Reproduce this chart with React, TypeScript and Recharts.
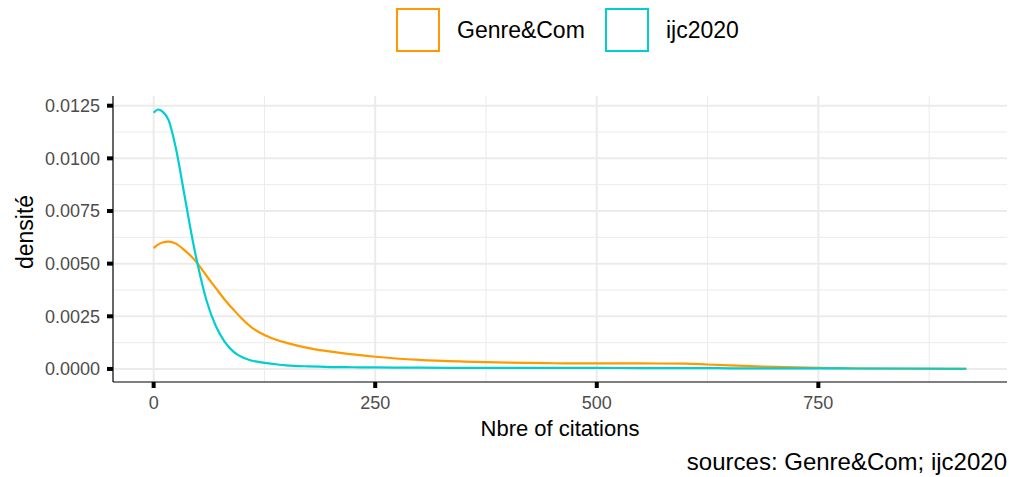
import { LineChart, Line, XAxis, YAxis, CartesianGrid } from 'recharts';

const citations = [0, 5, 10, 17, 25, 35, 45, 50, 60, 70, 80, 90, 100, 110, 125, 140, 150, 175, 200, 225, 250, 300, 350, 400, 450, 500, 550, 600, 625, 650, 675, 700, 725, 750, 800, 850, 917];
const genreCom = [0.00574, 0.0059, 0.006, 0.00605, 0.00595, 0.00563, 0.00523, 0.00498, 0.0044, 0.00385, 0.0033, 0.00282, 0.00237, 0.00199, 0.00161, 0.00136, 0.00124, 0.00099, 0.00082, 0.00069, 0.00058, 0.00043, 0.00035, 0.0003, 0.00027, 0.00026, 0.00026, 0.00025, 0.00021, 0.00017, 0.00013, 0.0001, 0.00007, 0.00005, 0.00002, 0.00001, 0];
const ijc2020 = [0.01217, 0.01232, 0.01222, 0.0118, 0.0105, 0.0082, 0.0059, 0.0049, 0.0032, 0.00205, 0.0013, 0.00082, 0.00055, 0.0004, 0.00029, 0.00021, 0.00017, 0.00012, 0.00009, 0.00008, 0.00007, 0.00006, 0.00005, 0.00005, 0.00005, 0.00005, 0.00004, 0.00004, 0.00004, 0.00003, 0.00003, 0.00003, 0.00003, 0.00003, 0.00002, 0.00002, 0.00001];

const xTicks = [0, 250, 500, 750];
const xMinor = [125, 375, 625, 875];
const yTicks = [0, 0.0025, 0.005, 0.0075, 0.01, 0.0125];
const yMinor = [0.00125, 0.00375, 0.00625, 0.00875, 0.01125];

const data = citations.map((c, i) => ({ x: c, genre: genreCom[i], ijc: ijc2020[i] }));

const FONT = '"Liberation Sans", Arial, sans-serif';
const ORANGE = '#FF9900';
const CYAN = '#00CED1';

const legendItems = [
  { label: 'Genre&Com', color: ORANGE, left: 396 },
  { label: 'ijc2020', color: CYAN, left: 605 },
];

export default function App() {
  return (
    <div style={{ position: 'absolute', left: 0, top: 0, width: 1011, height: 477, background: '#fff', fontFamily: FONT }}>
      {/* legend drawn by hand above the panel, ggplot style */}
      {legendItems.map((it) => (
        <div key={it.label} style={{ position: 'absolute', left: it.left, top: 8, height: 44, display: 'flex', alignItems: 'center', fontSize: 23, color: '#000' }}>
          <div style={{ width: 40, height: 40, border: `2px solid ${it.color}` }} />
          <span style={{ marginLeft: 17 }}>{it.label}</span>
        </div>
      ))}
      <LineChart width={1011} height={477} data={data} margin={{ top: 96, right: 4, bottom: 66, left: 0 }} style={{ position: 'absolute', left: 0, top: 0 }}>
        <CartesianGrid stroke="#EBEBEB" strokeWidth={1} horizontalValues={yMinor} verticalValues={xMinor} />
        <CartesianGrid stroke="#EBEBEB" strokeWidth={2} horizontalValues={yTicks} verticalValues={xTicks} />
        <XAxis
          dataKey="x"
          type="number"
          domain={[-45.85, 962.85]}
          ticks={xTicks}
          allowDataOverflow
          height={29}
          axisLine={{ stroke: '#000', strokeWidth: 1.2 }}
          tickLine={{ stroke: '#000', strokeWidth: 4 }}
          tickSize={6}
          tickMargin={8}
          tick={{ fill: '#4D4D4D', fontSize: 18, fontFamily: FONT }}
        />
        <YAxis
          type="number"
          domain={[-0.00062, 0.01296]}
          ticks={yTicks}
          allowDataOverflow
          width={113}
          axisLine={{ stroke: '#000', strokeWidth: 1.2 }}
          tickLine={{ stroke: '#000', strokeWidth: 4 }}
          tickSize={6}
          tickMargin={7}
          tickFormatter={(v: number) => v.toFixed(4)}
          tick={{ fill: '#4D4D4D', fontSize: 18, fontFamily: FONT }}
        />
        <Line type="monotone" dataKey="genre" stroke={ORANGE} strokeWidth={2.2} dot={false} isAnimationActive={false} />
        <Line type="monotone" dataKey="ijc" stroke={CYAN} strokeWidth={2.2} dot={false} isAnimationActive={false} />
        <text x={560} y={436} textAnchor="middle" fontSize={22} fontFamily={FONT} fill="#000">Nbre of citations</text>
        <text x={33} y={232} textAnchor="middle" fontSize={23} fontFamily={FONT} fill="#000" transform="rotate(-90 33 232)">densité</text>
        <text x={1007} y={470} textAnchor="end" fontSize={24} fontFamily={FONT} fill="#000">sources: Genre&amp;Com; ijc2020</text>
      </LineChart>
    </div>
  );
}
